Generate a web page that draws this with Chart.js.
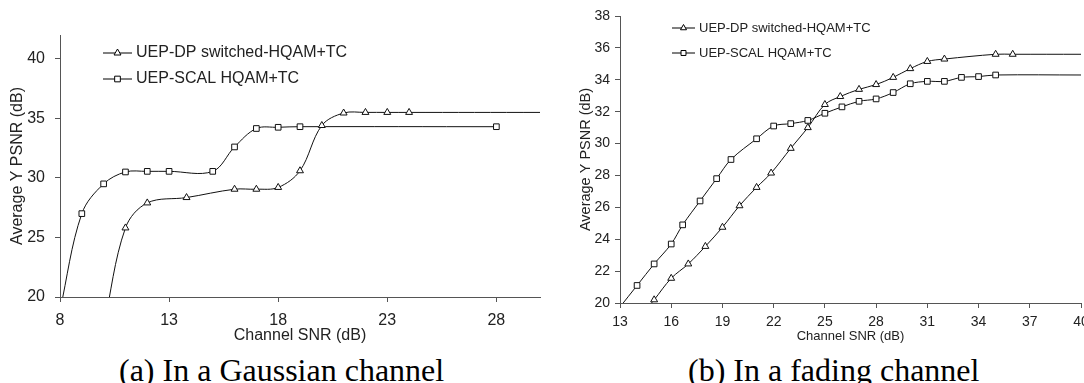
<!DOCTYPE html>
<html>
<head>
<meta charset="utf-8">
<script src="https://cdn.jsdelivr.net/npm/chart.js@4.4.0/dist/chart.umd.min.js"></script>
<style>
  html, body { margin: 0; padding: 0; background: #fff; overflow: hidden; }
  body { width: 1084px; height: 383px; position: relative; }
  #chartA { position: absolute; left: 0; top: 0; }
  #chartB { position: absolute; left: 560px; top: 0; }
  .cap {
    position: absolute; top: 354px; white-space: nowrap; color: #000;
    font-family: "Liberation Serif", "Times New Roman", serif;
    font-size: 32px; line-height: 32px;
  }
</style>
</head>
<body>
<canvas id="chartA" width="560" height="350"></canvas>
<canvas id="chartB" width="540" height="350"></canvas>
<div class="cap" style="left:119px">(a) In a Gaussian channel</div>
<div class="cap" style="left:688px">(b) In a fading channel</div>

<script>
// series names
const labelDP = "UEP-DP switched-HQAM+TC";
const labelSC = "UEP-SCAL HQAM+TC";

// (a) Gaussian channel
const gaussSnrDP  = [10, 11, 12, 13.8, 16, 17, 18, 19, 20, 21, 22, 23, 24, 30];
const gaussPsnrDP = [17.5, 25.8, 27.9, 28.35, 29.05, 29.05, 29.2, 30.6, 34.4, 35.45, 35.5, 35.5, 35.5, 35.5];
const gaussSnrSC  = [8, 9, 10, 11, 12, 13, 15, 16, 17, 18, 19, 28];
const gaussPsnrSC = [18.9, 27.0, 29.5, 30.5, 30.55, 30.55, 30.55, 32.6, 34.15, 34.25, 34.3, 34.3];
const gaussXTicks = [8, 13, 18, 23, 28];
const gaussYTicks = [20, 25, 30, 35, 40];

// (b) fading channel
const fadeSnrDP  = [14, 15, 16, 17, 18, 19, 20, 21, 21.85, 23, 24, 25, 25.9, 27, 28, 29, 30, 31, 32, 35, 36, 40];
const fadePsnrDP = [18.9, 20.2, 21.55, 22.45, 23.55, 24.75, 26.1, 27.25, 28.15, 29.7, 31.0, 32.45, 32.95, 33.4, 33.7, 34.15, 34.7, 35.15, 35.3, 35.6, 35.6, 35.6];
const fadeSnrSC  = [13, 14, 15, 16, 16.67, 17.69, 18.66, 19.5, 21, 22, 23, 24, 25, 26, 27, 28, 29, 30, 31, 32, 33, 34, 35, 40];
const fadePsnrSC = [19.75, 21.1, 22.45, 23.7, 24.9, 26.4, 27.8, 29.0, 30.3, 31.1, 31.25, 31.45, 31.9, 32.3, 32.65, 32.8, 33.2, 33.75, 33.9, 33.9, 34.15, 34.2, 34.3, 34.3];
const fadeXTicks = [13, 16, 19, 22, 25, 28, 31, 34, 37, 40];
const fadeYTicks = [20, 22, 24, 26, 28, 30, 32, 34, 36, 38];

const axisColor = "#555";
const textColor = "#222";
const sans = "'Liberation Sans', Arial, sans-serif";

function toPoints(xs, ys) {
  return xs.map((x, i) => ({ x: x, y: ys[i] }));
}

// draws "—marker— label" rows in the top left of the plot
const boxLegend = {
  id: "boxLegend",
  afterDraw(chart, args, opts) {
    const ctx = chart.ctx;
    ctx.save();
    ctx.font = opts.size + "px " + sans;
    ctx.textBaseline = "middle";
    chart.data.datasets.forEach((ds, i) => {
      const y = opts.y + i * opts.gap;
      ctx.strokeStyle = "#000";
      ctx.lineWidth = 1;
      ctx.beginPath();
      ctx.moveTo(opts.x, y);
      ctx.lineTo(opts.x + opts.lineLen, y);
      ctx.stroke();
      ctx.fillStyle = "#fff";
      Chart.helpers.drawPoint(ctx, { pointStyle: ds.pointStyle, radius: opts.r, borderWidth: 1, rotation: 0 },
        opts.x + opts.lineLen / 2, y);
      ctx.fillStyle = textColor;
      ctx.fillText(ds.label, opts.x + opts.lineLen + 4, y);
    });
    ctx.restore();
  }
};

function makeChart(id, cfg) {
  const hideOut = c => (c.raw.y < cfg.yMin || c.raw.x >= cfg.xMax) ? 0 : 4;
  const line = (label, pts, style) => ({
    label: label,
    data: pts,
    pointStyle: style,
    borderColor: "#111",
    borderWidth: 1,
    pointBorderColor: "#111",
    pointBackgroundColor: "#fff",
    pointBorderWidth: 1,
    pointRadius: hideOut,
    tension: 0.35,
    fill: false
  });
  return new Chart(document.getElementById(id), {
    type: "line",
    data: {
      datasets: [
        line(labelDP, cfg.dp, "triangle"),
        line(labelSC, cfg.sc, "rect")
      ]
    },
    options: {
      responsive: false,
      animation: false,
      devicePixelRatio: 1,
      layout: { padding: cfg.pad },
      plugins: {
        legend: { display: false },
        tooltip: { enabled: false },
        boxLegend: cfg.legend
      },
      scales: {
        x: {
          type: "linear", min: cfg.xMin, max: cfg.xMax,
          afterBuildTicks: s => { s.ticks = cfg.xTicks.map(v => ({ value: v })); },
          afterFit: s => { s.height = cfg.xHeight; },
          grid: { drawOnChartArea: false, tickLength: 5, color: axisColor },
          border: { color: axisColor },
          ticks: { color: textColor, font: { family: sans, size: cfg.tickSize }, padding: cfg.xTickPad, maxRotation: 0, autoSkip: false },
          title: { display: true, text: "Channel SNR (dB)", color: textColor,
            font: { family: sans, size: cfg.xTitleSize }, padding: { top: 0, bottom: cfg.xTitlePad } }
        },
        y: {
          type: "linear", min: cfg.yMin, max: cfg.yMax,
          afterBuildTicks: s => { s.ticks = cfg.yTicks.map(v => ({ value: v })); },
          afterFit: s => { s.width = 60; },
          grid: { drawOnChartArea: false, tickLength: 5, color: axisColor },
          border: { color: axisColor },
          ticks: { color: textColor, font: { family: sans, size: cfg.tickSize }, padding: cfg.yTickPad },
          title: { display: true, text: "Average Y PSNR (dB)", color: textColor,
            font: { family: sans, size: cfg.yTitleSize }, padding: { top: cfg.yTitlePad, bottom: 0 } }
        }
      }
    },
    plugins: [boxLegend]
  });
}

makeChart("chartA", {
  dp: toPoints(gaussSnrDP, gaussPsnrDP),
  sc: toPoints(gaussSnrSC, gaussPsnrSC),
  xMin: 8, xMax: 30, yMin: 20, yMax: 42,
  xTicks: gaussXTicks, yTicks: gaussYTicks,
  pad: { left: 0, top: 35, right: 20, bottom: 0 },
  xHeight: 53,
  tickSize: 16, xTickPad: 9, yTickPad: 10,
  xTitleSize: 16, xTitlePad: 5,
  yTitleSize: 16, yTitlePad: 8,
  legend: { x: 103, y: 53, gap: 26, lineLen: 29, size: 16, r: 4 }
});

makeChart("chartB", {
  dp: toPoints(fadeSnrDP, fadePsnrDP),
  sc: toPoints(fadeSnrSC, fadePsnrSC),
  xMin: 13, xMax: 40, yMin: 20, yMax: 38,
  xTicks: fadeXTicks, yTicks: fadeYTicks,
  pad: { left: 0, top: 16, right: 19, bottom: 0 },
  xHeight: 47,
  tickSize: 14, xTickPad: 6, yTickPad: 5,
  xTitleSize: 13, xTitlePad: 6,
  yTitleSize: 14.5, yTitlePad: 17,
  legend: { x: 112, y: 28, gap: 25, lineLen: 23, size: 13, r: 3.5 }
});
</script>
</body>
</html>
